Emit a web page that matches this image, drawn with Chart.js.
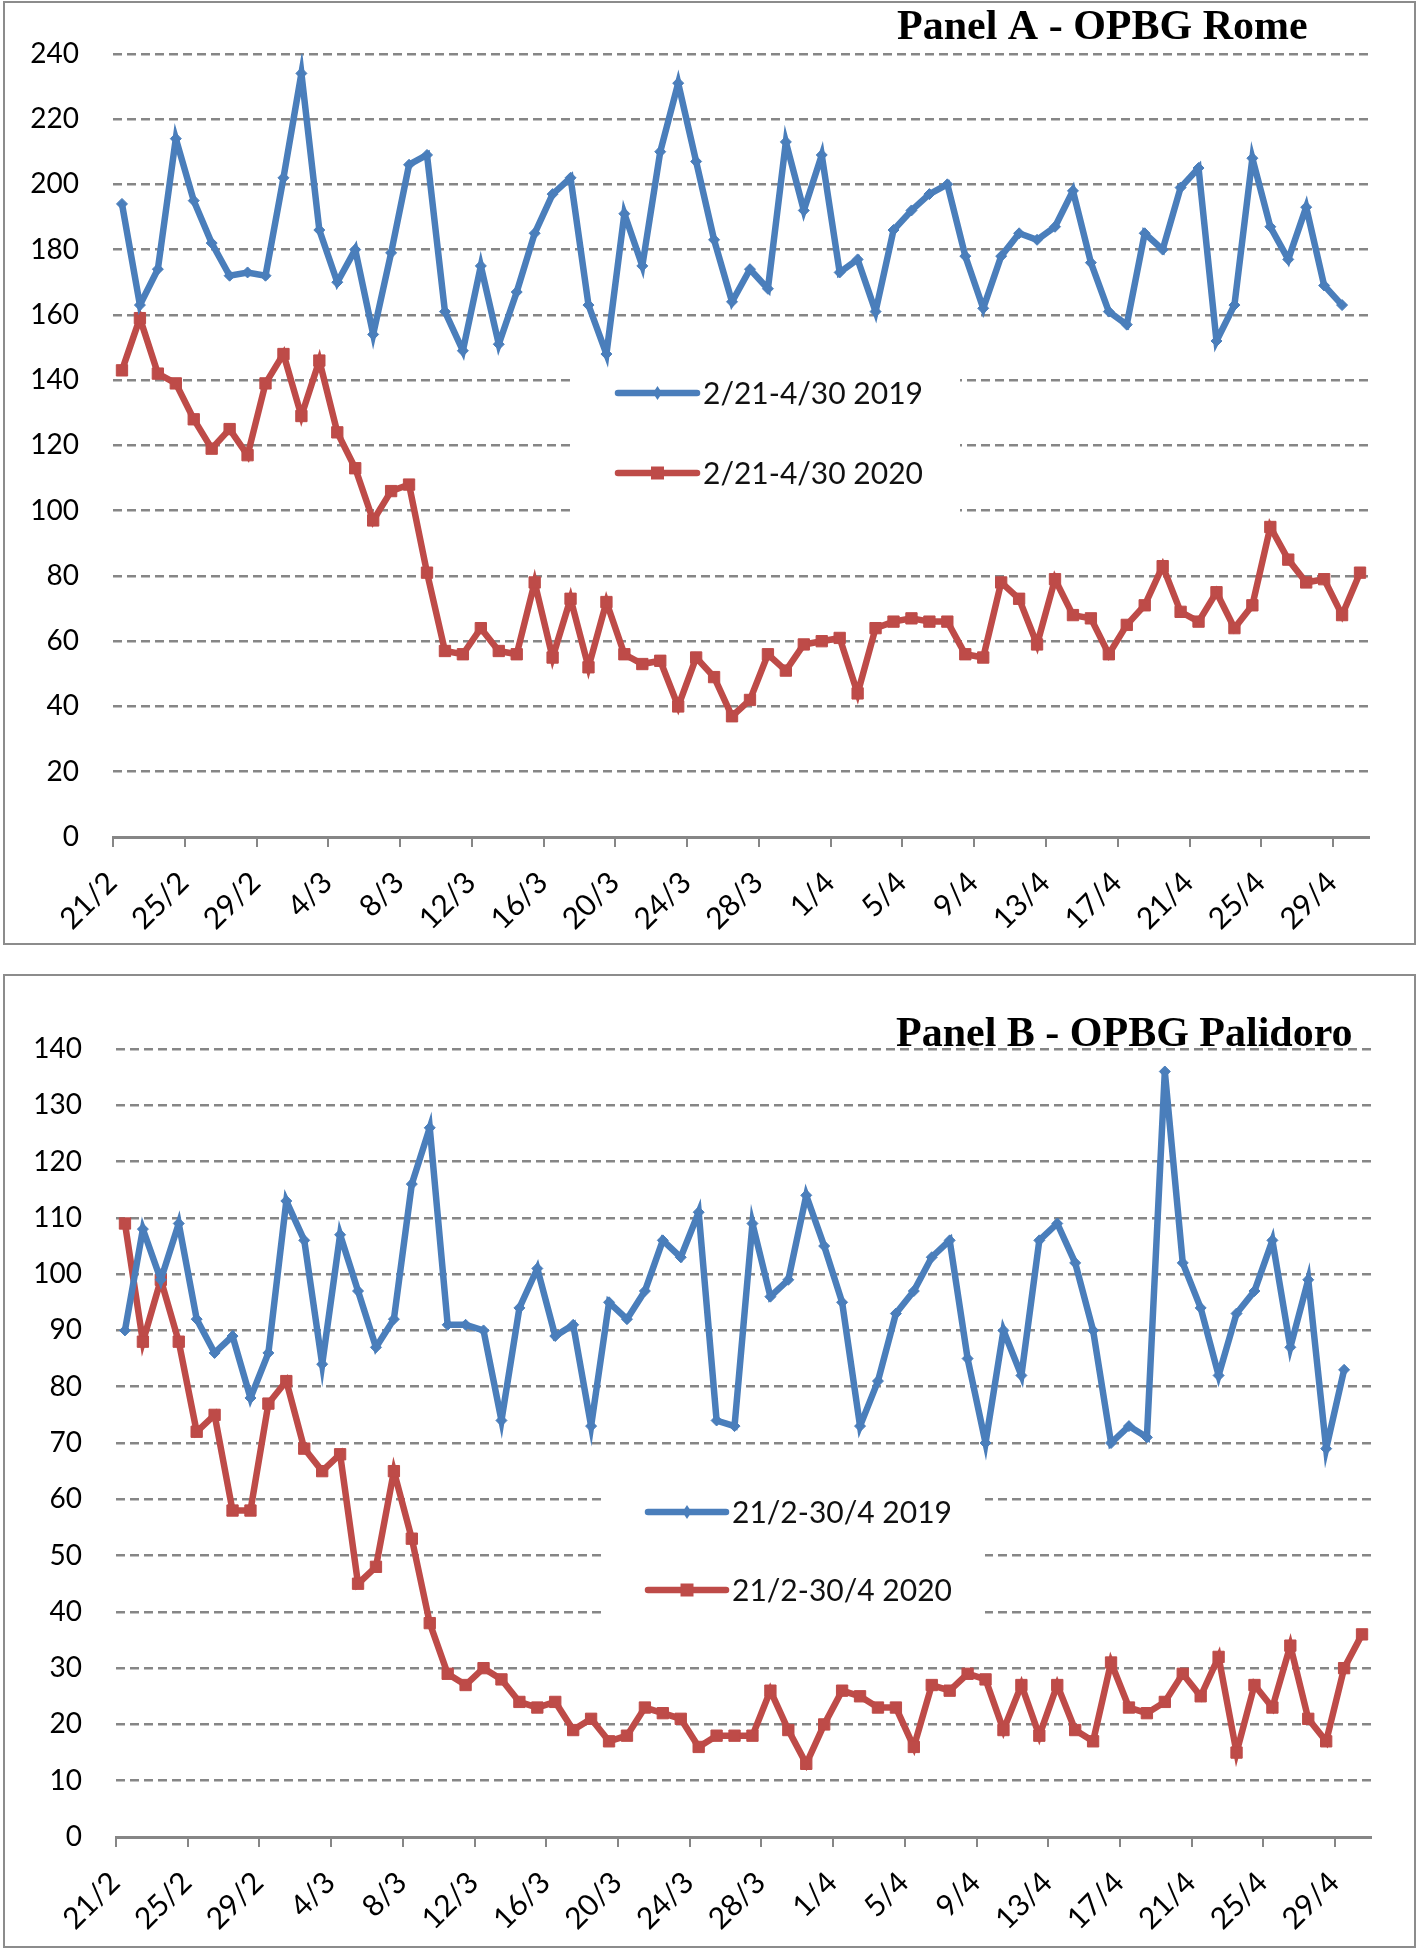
<!DOCTYPE html>
<html>
<head>
<meta charset="utf-8">
<script src="https://cdn.jsdelivr.net/npm/chart.js@4.4.1/dist/chart.umd.min.js"></script>
<style>
  html, body { margin: 0; padding: 0; background: #fff; }
  .panel { position: absolute; left: 3px; width: 1413px; box-sizing: border-box; border: 2px solid #8c8c8c; background: #fff; }
  #boxA { top: 1px; height: 944px; }
  #boxB { top: 974px; height: 974px; }
  canvas { display: block; }
</style>
</head>
<body>
<div class="panel" id="boxA"><canvas id="chartA" width="1409" height="940"></canvas></div>
<div class="panel" id="boxB"><canvas id="chartB" width="1409" height="970"></canvas></div>
<script>
// days 21/2 .. 30/4 (2020 calendar)
var dias = [
  "21/2", "22/2", "23/2", "24/2", "25/2", "26/2", "27/2", "28/2", "29/2",
  "1/3", "2/3", "3/3", "4/3", "5/3", "6/3", "7/3", "8/3", "9/3", "10/3",
  "11/3", "12/3", "13/3", "14/3", "15/3", "16/3", "17/3", "18/3", "19/3", "20/3",
  "21/3", "22/3", "23/3", "24/3", "25/3", "26/3", "27/3", "28/3", "29/3", "30/3", "31/3",
  "1/4", "2/4", "3/4", "4/4", "5/4", "6/4", "7/4", "8/4", "9/4", "10/4",
  "11/4", "12/4", "13/4", "14/4", "15/4", "16/4", "17/4", "18/4", "19/4", "20/4",
  "21/4", "22/4", "23/4", "24/4", "25/4", "26/4", "27/4", "28/4", "29/4", "30/4"
];

// Panel A - OPBG Rome
var romaTicks = [0, 20, 40, 60, 80, 100, 120, 140, 160, 180, 200, 220, 240];
var roma2019 = [194, 163, 174, 214, 195, 182, 172, 173, 172, 202,
  234, 186, 170, 180, 154, 179, 206, 209, 161, 149,
  175, 151, 167, 185, 197, 202, 163, 148, 191, 175,
  210, 231, 207, 183, 164, 174, 168, 213, 192, 209,
  173, 177, 161, 186, 192, 197, 200, 178, 162, 178,
  185, 183, 187, 198, 176, 161, 157, 185, 180, 199,
  205, 152, 163, 208, 187, 177, 193, 169, 163];
var roma2020 = [143, 159, 142, 139, 128, 119, 125, 117, 139, 148,
  129, 146, 124, 113, 97, 106, 108, 81, 57, 56,
  64, 57, 56, 78, 55, 73, 52, 72, 56, 53,
  54, 40, 55, 49, 37, 42, 56, 51, 59, 60,
  61, 44, 64, 66, 67, 66, 66, 56, 55, 78,
  73, 59, 79, 68, 67, 56, 65, 71, 83, 69,
  66, 75, 64, 71, 95, 85, 78, 79, 68, 81];

// Panel B - OPBG Palidoro
var paliTicks = [0, 10, 20, 30, 40, 50, 60, 70, 80, 90, 100, 110, 120, 130, 140];
var pali2019 = [90, 108, 99, 109, 92, 86, 89, 78, 86, 113,
  106, 84, 107, 97, 87, 92, 116, 126, 91, 91,
  90, 74, 94, 101, 89, 91, 73, 95, 92, 97,
  106, 103, 111, 74, 73, 109, 96, 99, 114, 105,
  95, 73, 81, 93, 97, 103, 106, 85, 70, 90,
  82, 106, 109, 102, 90, 70, 73, 71, 136, 102,
  94, 82, 93, 97, 106, 87, 99, 69, 83];
var pali2020 = [109, 88, 99, 88, 72, 75, 58, 58, 77, 81,
  69, 65, 68, 45, 48, 65, 53, 38, 29, 27,
  30, 28, 24, 23, 24, 19, 21, 17, 18, 23,
  22, 21, 16, 18, 18, 18, 26, 19, 13, 20,
  26, 25, 23, 23, 16, 27, 26, 29, 28, 19,
  27, 18, 27, 19, 17, 31, 23, 22, 24, 29,
  25, 32, 15, 27, 23, 34, 21, 17, 30, 36];

var AZUL = "#4A7EBB";
var ROJO = "#BE4B48";
var GRIS = "#868686";
var letra = "Lato, 'Open Sans', sans-serif";

// title + legend drawn inside the plot, legend sits on a white box over the grid
var panelDecor = {
  id: "panelDecor",
  beforeDatasetsDraw: function (chart, args, o) {
    var ctx = chart.ctx;
    ctx.save();
    ctx.fillStyle = "#fff";
    ctx.fillRect(o.box[0], o.box[1], o.box[2], o.box[3]);
    chart.data.datasets.forEach(function (ds, i) {
      var y = o.rows[i];
      ctx.strokeStyle = ds.borderColor;
      ctx.fillStyle = ds.borderColor;
      ctx.lineWidth = 6.5;
      ctx.lineCap = "round";
      ctx.beginPath();
      ctx.moveTo(o.lineX[0], y);
      ctx.lineTo(o.lineX[1], y);
      ctx.stroke();
      var cx = (o.lineX[0] + o.lineX[1]) / 2;
      ctx.beginPath();
      if (ds.pointStyle === "rect") {
        ctx.rect(cx - 6.5, y - 6.5, 13, 13);
      } else {
        ctx.moveTo(cx, y - 7);
        ctx.lineTo(cx + 4.5, y);
        ctx.lineTo(cx, y + 7);
        ctx.lineTo(cx - 4.5, y);
        ctx.closePath();
      }
      ctx.fill();
      ctx.fillStyle = "#111";
      ctx.font = "30px " + letra;
      ctx.textBaseline = "middle";
      ctx.textAlign = "left";
      ctx.fillText(ds.label, o.textX, y + 1);
    });
    ctx.restore();
  },
  afterDraw: function (chart, args, o) {
    var ctx = chart.ctx;
    ctx.save();
    ctx.fillStyle = "#000";
    ctx.font = "bold " + o.titleSize + "px 'Liberation Serif', 'Times New Roman', serif";
    ctx.textBaseline = "alphabetic";
    ctx.textAlign = "left";
    ctx.fillText(o.title, o.titleX, o.titleY);
    ctx.restore();
  }
};

function makeChart(id, cfg) {
  return new Chart(document.getElementById(id), {
    type: "line",
    data: {
      labels: dias,
      datasets: [
        {
          label: cfg.names[0],
          data: cfg.s2019,
          borderColor: AZUL,
          backgroundColor: AZUL,
          borderWidth: 6.5,
          pointStyle: "rectRot",
          pointRadius: 5.5,
          pointBorderWidth: 1,
          tension: 0,
        },
        {
          label: cfg.names[1],
          data: cfg.s2020,
          borderColor: ROJO,
          backgroundColor: ROJO,
          borderWidth: 6.5,
          pointStyle: "rect",
          pointRadius: 8,
          pointBorderWidth: 1,
          tension: 0,
        },
      ],
    },
    options: {
      responsive: false,
      animation: false,
      layout: { padding: { top: cfg.top, right: cfg.right, bottom: 0, left: 0 } },
      scales: {
        x: {
          offset: true,
          grid: {
            offset: true,
            drawOnChartArea: false,
            drawTicks: true,
            tickLength: 10,
            lineWidth: 2,
            color: function (c) {
              return c.index % 4 === 0 ? GRIS : "rgba(0,0,0,0)";
            },
          },
          border: { display: true, color: GRIS, width: 3 },
          ticks: {
            autoSkip: false,
            minRotation: 45,
            maxRotation: 45,
            padding: 18,
            labelOffset: -10,
            color: "#000",
            font: { family: letra, size: 30 },
            callback: function (v, i) {
              return i % 4 === 0 ? dias[i] : "";
            },
          },
          afterFit: function (s) {
            s.height = cfg.xh;
          },
        },
        y: {
          min: cfg.yticks[0],
          max: cfg.yticks[cfg.yticks.length - 1],
          afterBuildTicks: function (s) {
            s.ticks = cfg.yticks.map(function (v) { return { value: v }; });
          },
          grid: { color: GRIS, lineWidth: 2.5, drawTicks: false },
          border: { display: false, dash: [9, 5] },
          ticks: {
            padding: 34,
            color: "#000",
            font: { family: letra, size: 28 },
          },
          afterFit: function (s) {
            s.width = cfg.yw;
          },
        },
      },
      plugins: {
        legend: { display: false },
        tooltip: { enabled: false },
        panelDecor: cfg.decor,
      },
    },
    plugins: [panelDecor],
  });
}

var chartA = makeChart("chartA", {
  names: ["2/21-4/30 2019", "2/21-4/30 2020"],
  s2019: roma2019,
  s2020: roma2020,
  yticks: romaTicks,
  top: 48, right: 45, yw: 108, xh: 106,
  decor: {
    title: "Panel A - OPBG Rome", titleX: 892, titleY: 36, titleSize: 42,
    box: [568, 335, 387, 210],
    rows: [390, 470],
    lineX: [613, 692],
    textX: 698,
  },
});

var chartB = makeChart("chartB", {
  names: ["21/2-30/4 2019", "21/2-30/4 2020"],
  s2019: pali2019,
  s2020: pali2020,
  yticks: paliTicks,
  top: 73, right: 43, yw: 111, xh: 109,
  decor: {
    title: "Panel B - OPBG Palidoro", titleX: 891, titleY: 70, titleSize: 42,
    box: [601, 480, 379, 190],
    rows: [536, 614],
    lineX: [643, 721],
    textX: 727,
  },
});
</script>
</body>
</html>
